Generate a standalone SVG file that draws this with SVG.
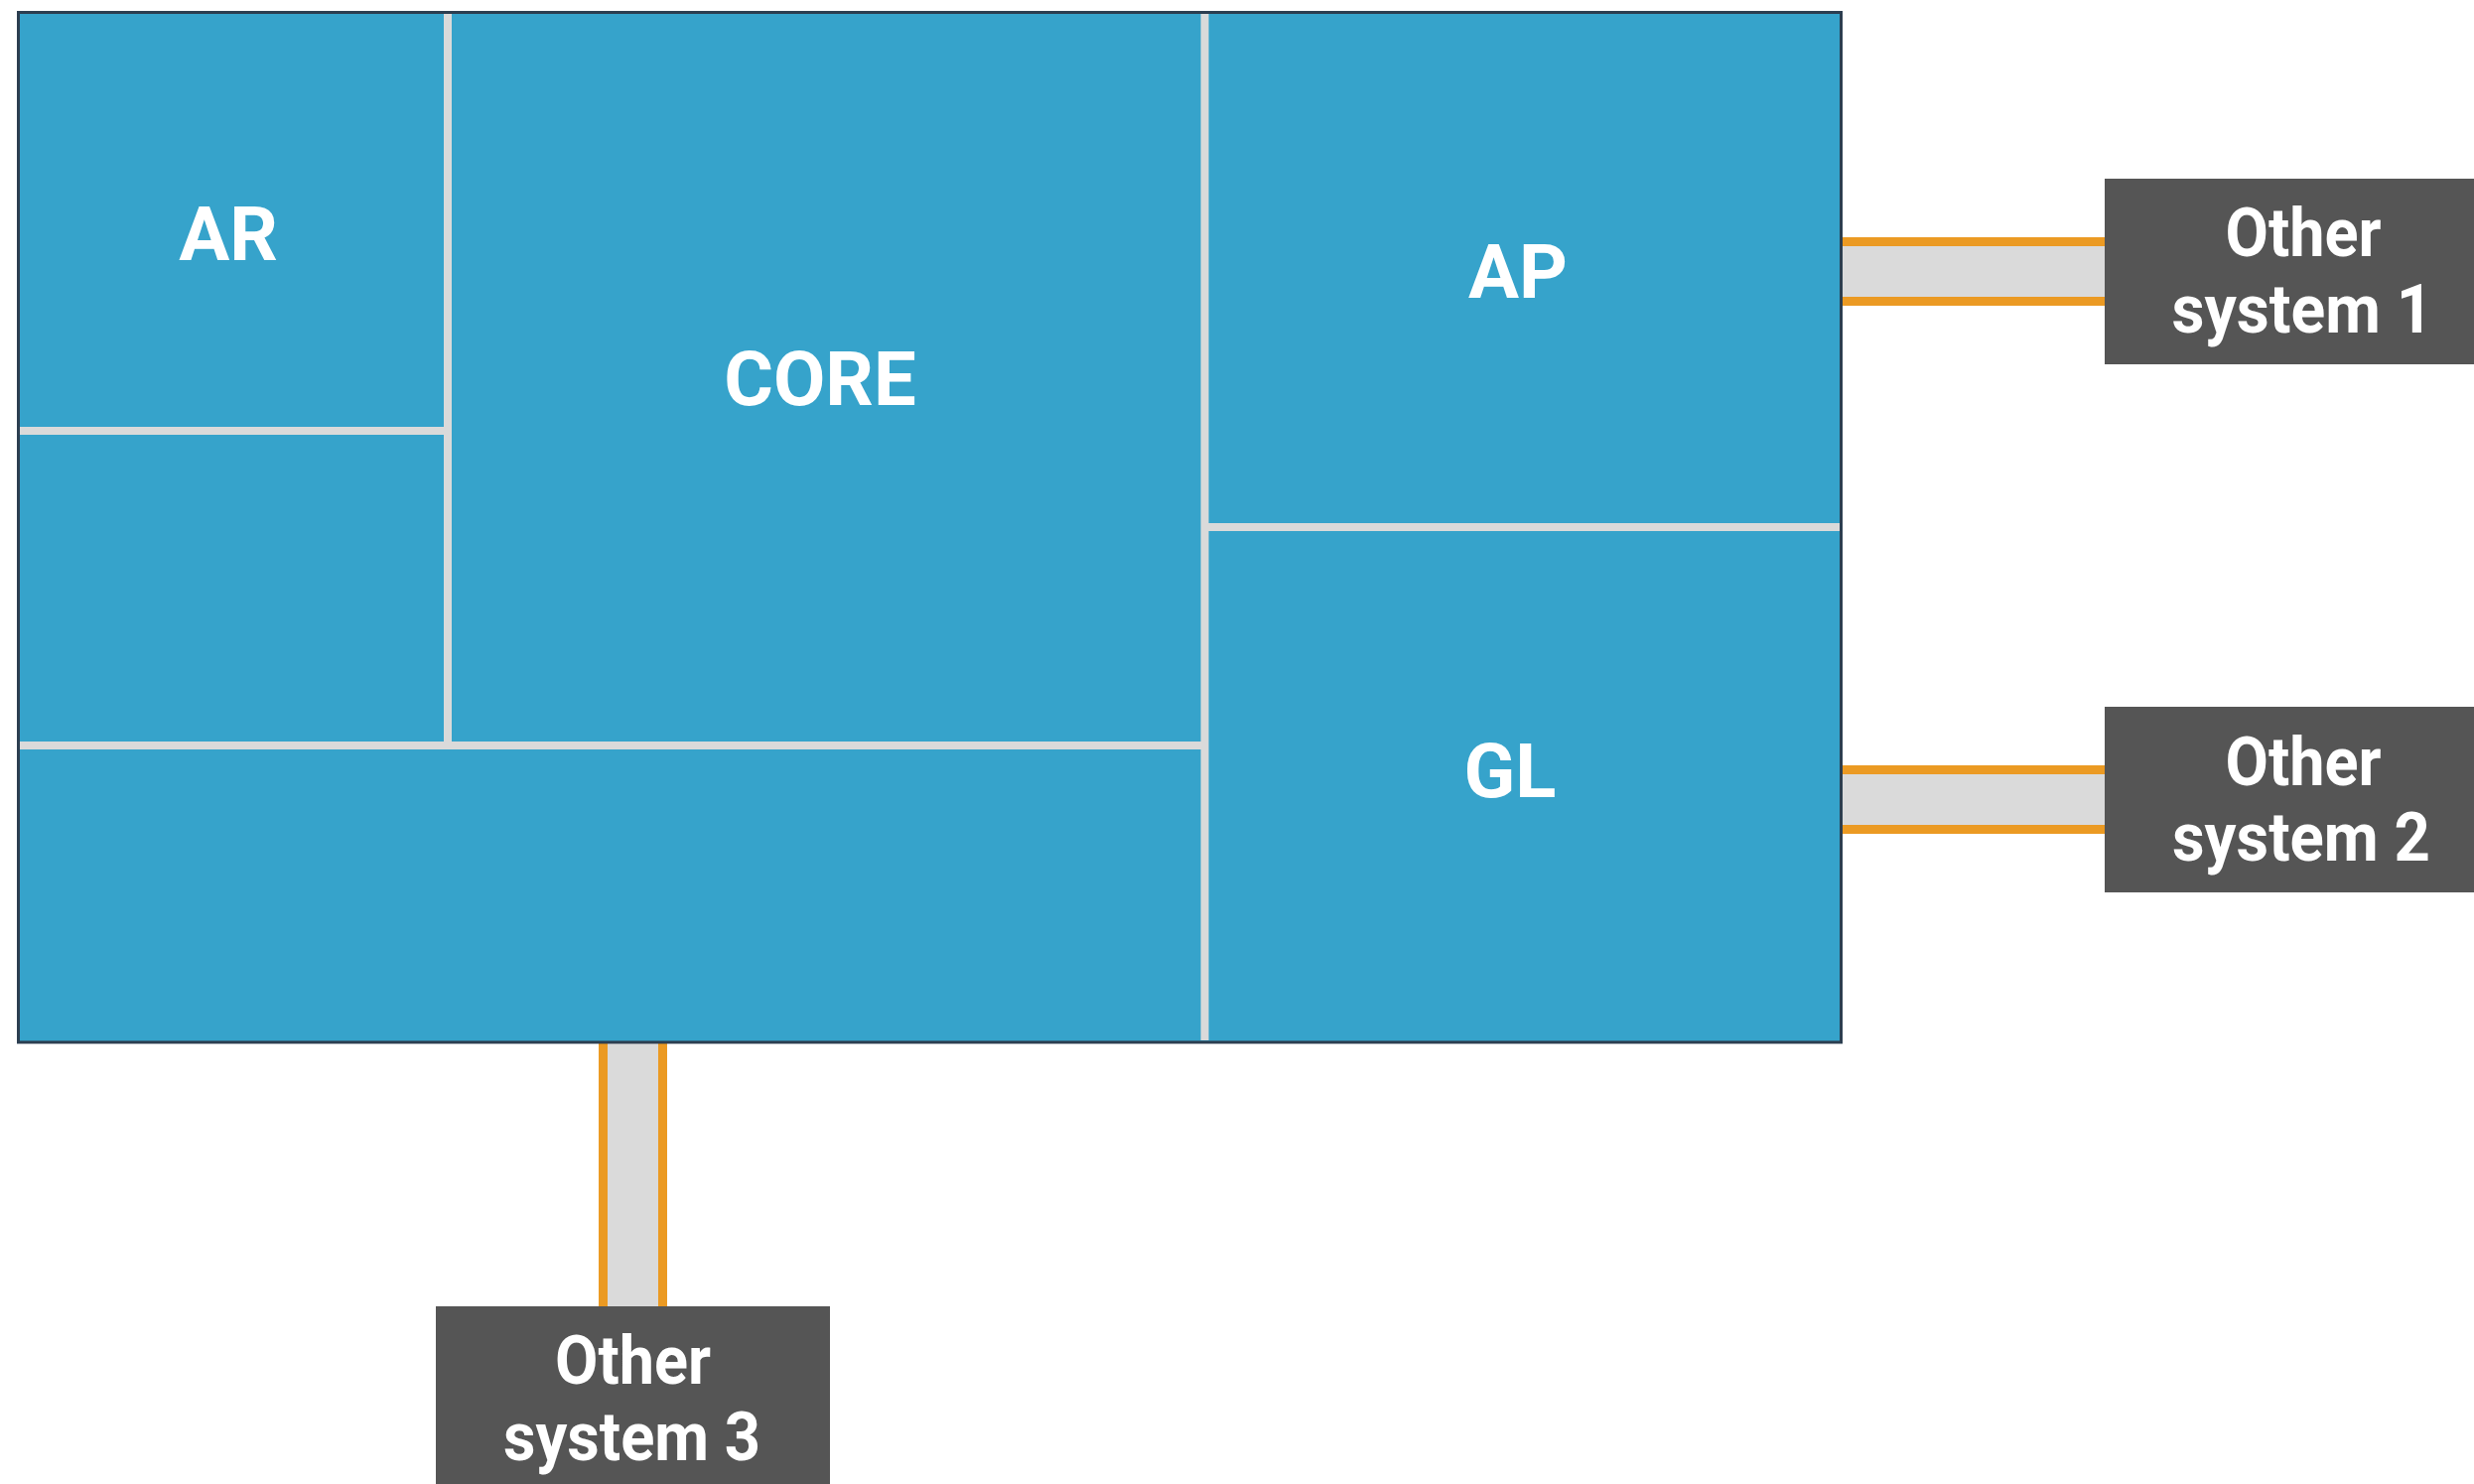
<svg xmlns="http://www.w3.org/2000/svg" width="2492" height="1495" viewBox="0 0 2492 1495">
<style>
.bg{fill:#ffffff}
.main{fill:#36a3cb;stroke:#2c3e50;stroke-width:3}
.div{stroke:#dadada;stroke-width:8;fill:none}
.lbl{font-family:Roboto,"Liberation Sans",sans-serif;font-weight:bold;font-size:76px;fill:#ffffff;text-anchor:middle}
.sys{fill:#555555}
.slbl{font-family:Roboto,"Liberation Sans",sans-serif;font-weight:bold;font-size:68px;fill:#ffffff;text-anchor:middle}
.band{fill:#dadada}
.edge{fill:#eb9a23}
</style>
<rect class="bg" x="0" y="0" width="2492" height="1495"/>
<g id="connectors">
  <g id="link1">
    <rect class="band" x="1856" y="248" width="264" height="51"/>
    <rect class="edge" x="1856" y="239" width="264" height="9"/>
    <rect class="edge" x="1856" y="299" width="264" height="9"/>
  </g>
  <g id="link2">
    <rect class="band" x="1856" y="780" width="264" height="51"/>
    <rect class="edge" x="1856" y="771" width="264" height="9"/>
    <rect class="edge" x="1856" y="831" width="264" height="9"/>
  </g>
  <g id="link3">
    <rect class="band" x="612" y="1051" width="51" height="265"/>
    <rect class="edge" x="603" y="1051" width="9" height="265"/>
    <rect class="edge" x="663" y="1051" width="9" height="265"/>
  </g>
</g>
<g id="system">
  <rect class="main" x="18.5" y="12.5" width="1836" height="1037.5"/>
  <line class="div" x1="451" y1="14" x2="451" y2="751"/>
  <line class="div" x1="20" y1="434" x2="451" y2="434"/>
  <line class="div" x1="20" y1="751" x2="1213.5" y2="751"/>
  <line class="div" x1="1213.5" y1="14" x2="1213.5" y2="1048"/>
  <line class="div" x1="1213.5" y1="531" x2="1853" y2="531"/>
</g>
<g id="AR"><text class="lbl" x="230" y="262">AR</text></g>
<g id="CORE"><text class="lbl" x="826" y="408">CORE</text></g>
<g id="AP"><text class="lbl" x="1529" y="300">AP</text></g>
<g id="GL"><text class="lbl" x="1521" y="803">GL</text></g>
<g id="other1">
  <rect class="sys" x="2120" y="180" width="372" height="187"/>
  <text class="slbl" x="2320" y="258" textLength="157" lengthAdjust="spacingAndGlyphs">Other</text>
  <text class="slbl" x="2319" y="335" textLength="263" lengthAdjust="spacingAndGlyphs">system 1</text>
</g>
<g id="other2">
  <rect class="sys" x="2120" y="712" width="372" height="187"/>
  <text class="slbl" x="2320" y="791" textLength="157" lengthAdjust="spacingAndGlyphs">Other</text>
  <text class="slbl" x="2318" y="867" textLength="260" lengthAdjust="spacingAndGlyphs">system 2</text>
</g>
<g id="other3">
  <rect class="sys" x="439" y="1316" width="397" height="179"/>
  <text class="slbl" x="637.5" y="1394" textLength="157" lengthAdjust="spacingAndGlyphs">Other</text>
  <text class="slbl" x="636.5" y="1471" textLength="259" lengthAdjust="spacingAndGlyphs">system 3</text>
</g>
</svg>
